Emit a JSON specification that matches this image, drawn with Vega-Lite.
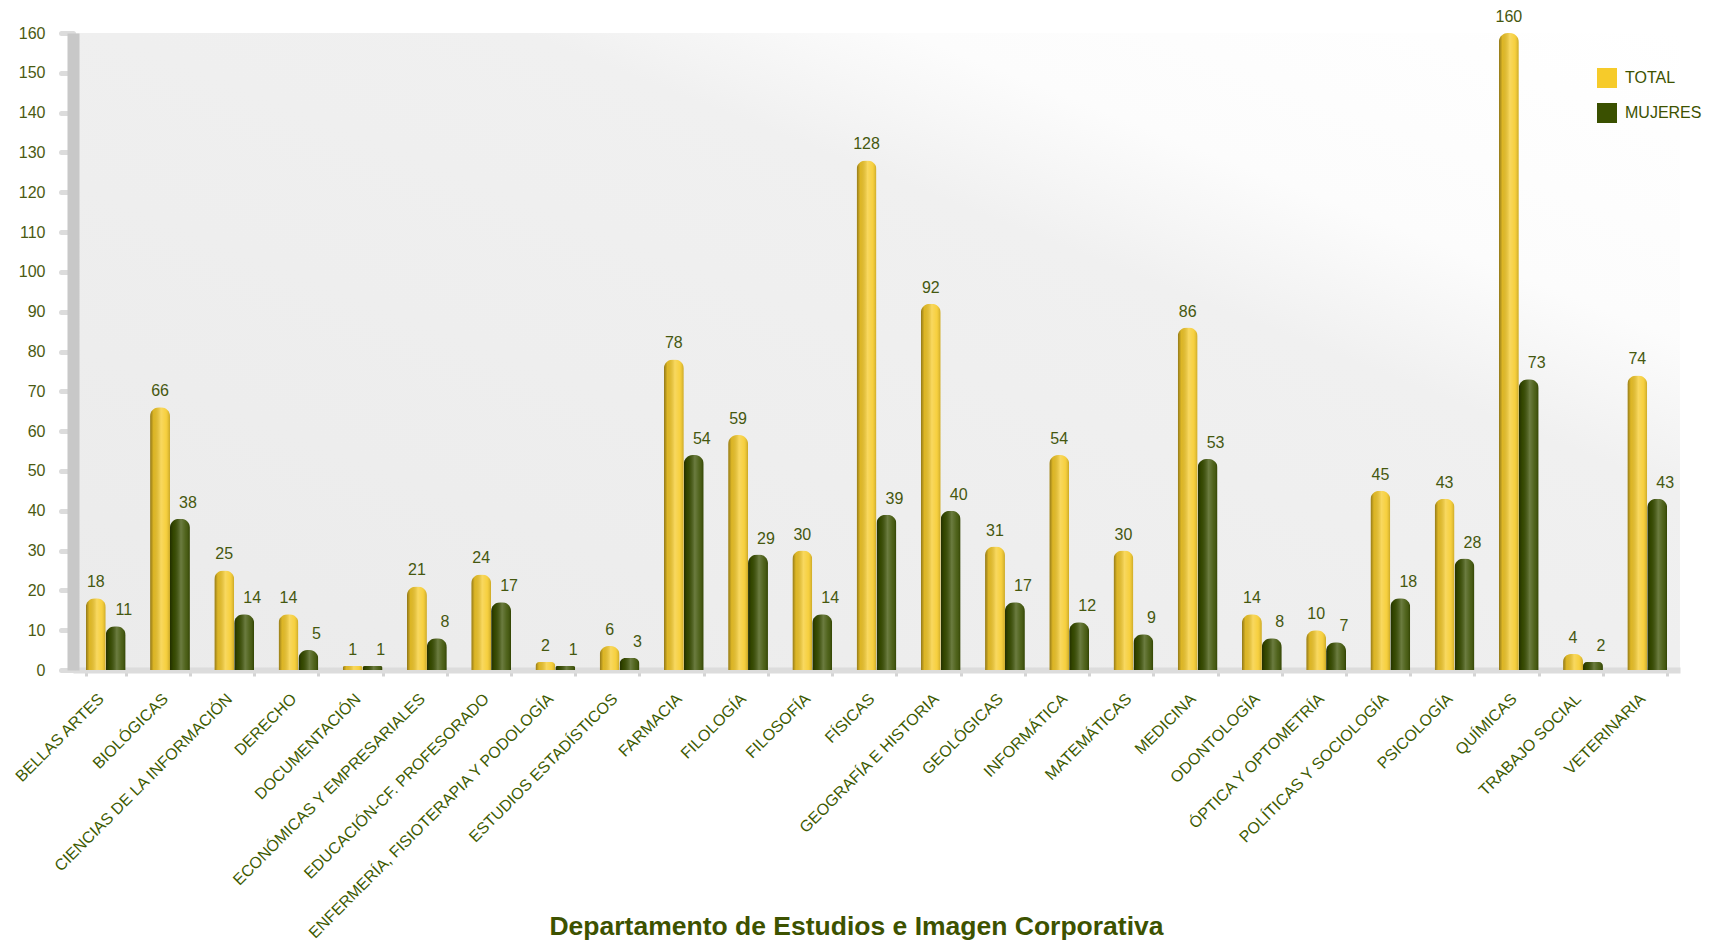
{
  "$schema": "https://vega.github.io/schema/vega-lite/v6.json",
  "width": 1607,
  "height": 637,
  "autosize": {"type": "none"},
  "padding": {"left": 73, "top": 33, "right": 32, "bottom": 274},
  "background": "white",
  "config": {
    "font": "Liberation Sans",
    "view": {
      "stroke": null,
      "fill": {"gradient": "linear", "x1": 0, "y1": 1, "x2": 1, "y2": 0,
        "stops": [
          {"offset": 0, "color": "#ebebeb"},
          {"offset": 0.64, "color": "#f0f0f0"},
          {"offset": 0.76, "color": "#fcfcfc"},
          {"offset": 1, "color": "#ffffff"}
        ]}
    }
  },
  "data": {
    "values": [
      {"c": "BELLAS ARTES", "s": "TOTAL", "v": 18}, {"c": "BELLAS ARTES", "s": "MUJERES", "v": 11},
      {"c": "BIOLÓGICAS", "s": "TOTAL", "v": 66}, {"c": "BIOLÓGICAS", "s": "MUJERES", "v": 38},
      {"c": "CIENCIAS DE LA INFORMACIÓN", "s": "TOTAL", "v": 25}, {"c": "CIENCIAS DE LA INFORMACIÓN", "s": "MUJERES", "v": 14},
      {"c": "DERECHO", "s": "TOTAL", "v": 14}, {"c": "DERECHO", "s": "MUJERES", "v": 5},
      {"c": "DOCUMENTACIÓN", "s": "TOTAL", "v": 1}, {"c": "DOCUMENTACIÓN", "s": "MUJERES", "v": 1},
      {"c": "ECONÓMICAS Y EMPRESARIALES", "s": "TOTAL", "v": 21}, {"c": "ECONÓMICAS Y EMPRESARIALES", "s": "MUJERES", "v": 8},
      {"c": "EDUCACIÓN-CF. PROFESORADO", "s": "TOTAL", "v": 24}, {"c": "EDUCACIÓN-CF. PROFESORADO", "s": "MUJERES", "v": 17},
      {"c": "ENFERMERÍA, FISIOTERAPIA Y PODOLOGÍA", "s": "TOTAL", "v": 2}, {"c": "ENFERMERÍA, FISIOTERAPIA Y PODOLOGÍA", "s": "MUJERES", "v": 1},
      {"c": "ESTUDIOS ESTADÍSTICOS", "s": "TOTAL", "v": 6}, {"c": "ESTUDIOS ESTADÍSTICOS", "s": "MUJERES", "v": 3},
      {"c": "FARMACIA", "s": "TOTAL", "v": 78}, {"c": "FARMACIA", "s": "MUJERES", "v": 54},
      {"c": "FILOLOGÍA", "s": "TOTAL", "v": 59}, {"c": "FILOLOGÍA", "s": "MUJERES", "v": 29},
      {"c": "FILOSOFÍA", "s": "TOTAL", "v": 30}, {"c": "FILOSOFÍA", "s": "MUJERES", "v": 14},
      {"c": "FÍSICAS", "s": "TOTAL", "v": 128}, {"c": "FÍSICAS", "s": "MUJERES", "v": 39},
      {"c": "GEOGRAFÍA E HISTORIA", "s": "TOTAL", "v": 92}, {"c": "GEOGRAFÍA E HISTORIA", "s": "MUJERES", "v": 40},
      {"c": "GEOLÓGICAS", "s": "TOTAL", "v": 31}, {"c": "GEOLÓGICAS", "s": "MUJERES", "v": 17},
      {"c": "INFORMÁTICA", "s": "TOTAL", "v": 54}, {"c": "INFORMÁTICA", "s": "MUJERES", "v": 12},
      {"c": "MATEMÁTICAS", "s": "TOTAL", "v": 30}, {"c": "MATEMÁTICAS", "s": "MUJERES", "v": 9},
      {"c": "MEDICINA", "s": "TOTAL", "v": 86}, {"c": "MEDICINA", "s": "MUJERES", "v": 53},
      {"c": "ODONTOLOGÍA", "s": "TOTAL", "v": 14}, {"c": "ODONTOLOGÍA", "s": "MUJERES", "v": 8},
      {"c": "ÓPTICA Y OPTOMETRÍA", "s": "TOTAL", "v": 10}, {"c": "ÓPTICA Y OPTOMETRÍA", "s": "MUJERES", "v": 7},
      {"c": "POLÍTICAS Y SOCIOLOGÍA", "s": "TOTAL", "v": 45}, {"c": "POLÍTICAS Y SOCIOLOGÍA", "s": "MUJERES", "v": 18},
      {"c": "PSICOLOGÍA", "s": "TOTAL", "v": 43}, {"c": "PSICOLOGÍA", "s": "MUJERES", "v": 28},
      {"c": "QUÍMICAS", "s": "TOTAL", "v": 160}, {"c": "QUÍMICAS", "s": "MUJERES", "v": 73},
      {"c": "TRABAJO SOCIAL", "s": "TOTAL", "v": 4}, {"c": "TRABAJO SOCIAL", "s": "MUJERES", "v": 2},
      {"c": "VETERINARIA", "s": "TOTAL", "v": 74}, {"c": "VETERINARIA", "s": "MUJERES", "v": 43}
    ]
  },
  "encoding": {
    "x": {
      "field": "c", "type": "nominal", "sort": null,
      "scale": {"paddingInner": 0.38, "paddingOuter": 0.2},
      "axis": {
        "title": "Departamento de Estudios e Imagen Corporativa",
        "titleFontSize": 26.5, "titleFontWeight": "bold", "titleColor": "#3d5200",
        "titleY": 256, "titleX": 783, "titleBaseline": "middle", "titleAnchor": "middle",
        "labelAngle": -45, "labelAlign": "right", "labelBaseline": "middle",
        "labelFontSize": 16, "labelColor": "#3d5a00", "labelPadding": 20, "labelOffset": -5, "labelLimit": 500,
        "domainColor": "#dcdcdc", "domainWidth": 6,
        "tickColor": "#d4d4d4", "tickSize": 6, "tickWidth": 3, "tickBand": "extent"
      }
    },
    "xOffset": {
      "field": "s", "type": "nominal", "sort": ["TOTAL", "MUJERES"],
      "scale": {"domain": ["TOTAL", "MUJERES"], "paddingInner": 0, "paddingOuter": 0}
    },
    "y": {
      "field": "v", "type": "quantitative",
      "scale": {"domain": [0, 160], "nice": false},
      "axis": {
        "title": null, "grid": false,
        "values": [0, 10, 20, 30, 40, 50, 60, 70, 80, 90, 100, 110, 120, 130, 140, 150, 160],
        "labelFontSize": 16, "labelColor": "#4b5a12", "labelPadding": 16,
        "domainColor": "#c8c8c8", "domainWidth": 12,
        "tickColor": "#dcdcdc", "tickSize": 12, "tickWidth": 5, "tickCap": "round"
      }
    }
  },
  "layer": [
    {
      "mark": {"type": "bar", "cornerRadiusTopLeft": 9, "cornerRadiusTopRight": 9},
      "encoding": {
        "color": {
          "field": "s", "type": "nominal",
          "scale": {"domain": ["TOTAL", "MUJERES"], "range": ["#f6cb2a", "#3a5000"]},
          "legend": {
            "title": null, "orient": "none", "legendX": 1524, "legendY": 35,
            "symbolType": "square", "symbolSize": 400, "symbolStrokeWidth": 0,
            "labelFontSize": 16, "labelColor": "#3d5200", "rowPadding": 15, "labelOffset": 8
          }
        }
      }
    },
    {
      "mark": {
        "type": "bar", "cornerRadiusTopLeft": 9, "cornerRadiusTopRight": 9,
        "color": {"gradient": "linear", "x1": 0, "y1": 0, "x2": 1, "y2": 0,
          "stops": [
            {"offset": 0, "color": "rgba(0,0,0,0.42)"},
            {"offset": 0.18, "color": "rgba(0,0,0,0.1)"},
            {"offset": 0.55, "color": "rgba(255,255,255,0.25)"},
            {"offset": 0.8, "color": "rgba(255,255,255,0.1)"},
            {"offset": 1, "color": "rgba(0,0,0,0.18)"}
          ]}
      },
      "encoding": {}
    },
    {
      "transform": [{"filter": "datum.s === 'TOTAL'"}],
      "mark": {"type": "text", "baseline": "bottom", "dy": -8, "fontSize": 16, "color": "#45580f"},
      "encoding": {"text": {"field": "v", "type": "quantitative"}}
    },
    {
      "transform": [{"filter": "datum.s === 'MUJERES'"}],
      "mark": {"type": "text", "baseline": "bottom", "dy": -8, "dx": 8, "fontSize": 16, "color": "#45580f"},
      "encoding": {"text": {"field": "v", "type": "quantitative"}}
    }
  ]
}
